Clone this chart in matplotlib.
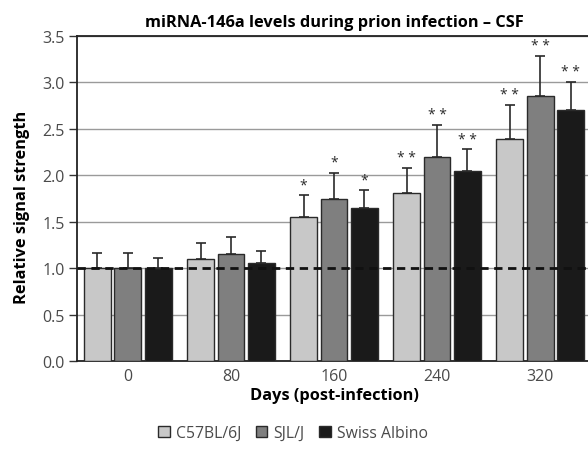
import numpy as np
import matplotlib
matplotlib.use('Agg')
import matplotlib.pyplot as plt

plt.rcParams['font.family'] = ['Open Sans', 'DejaVu Sans']

# data
days = ['0', '80', '160', '240', '320']
strains = ['C57BL/6J', 'SJL/J', 'Swiss Albino']
c57 = [1.00, 1.10, 1.55, 1.81, 2.39]
sjl = [1.00, 1.15, 1.75, 2.20, 2.85]
swiss = [1.00, 1.055, 1.65, 2.05, 2.70]
c57_err = [0.16, 0.17, 0.24, 0.27, 0.37]
sjl_err = [0.16, 0.19, 0.28, 0.34, 0.44]
swiss_err = [0.11, 0.125, 0.19, 0.23, 0.31]
c57_sig = ['', '', '*', '**', '**']
sjl_sig = ['', '', '*', '**', '**']
swiss_sig = ['', '', '*', '**', '**']

colors = ['#c8c8c8', '#7f7f7f', '#1a1a1a']

fig = plt.figure(figsize=(5.88, 4.64), dpi=100)
ax = fig.add_axes([77/588, 1 - 362/464, 514/588, 325/464])

x = np.arange(len(days))
slot = 0.296
width = 0.262
series = [(c57, c57_err, c57_sig), (sjl, sjl_err, sjl_sig), (swiss, swiss_err, swiss_sig)]

for i, (vals, errs, sigs) in enumerate(series):
    pos = x + (i - 1) * slot
    ax.bar(pos, vals, width, color=colors[i], edgecolor='#2a2a2a', linewidth=1.0,
           label=strains[i], zorder=3)
    ax.errorbar(pos, vals, yerr=[np.zeros(len(vals)), errs], fmt='none',
                ecolor='#2a2a2a', elinewidth=1.2, capsize=3.5, capthick=1.2, zorder=4)
    for p, v, e, s in zip(pos, vals, errs, sigs):
        if s:
            ax.text(p, v + e + 0.03, ' '.join(s), ha='center', va='bottom', fontsize=10,
                    color='#2a2a2a', zorder=5)

ax.axhline(1.0, color='#111111', linestyle=(0, (3, 2)), linewidth=2, zorder=6)

ax.set_xlim(-0.495, 4.495)
ax.set_ylim(0, 3.5)
ax.set_yticks(np.arange(0, 3.51, 0.5))
ax.set_yticklabels(['%.1f' % v for v in np.arange(0, 3.51, 0.5)])
ax.set_xticks(x)
ax.set_xticklabels(days)
ax.yaxis.grid(True, color='#9a9a9a', linewidth=1.0, zorder=0)
ax.set_axisbelow(True)

ax.tick_params(axis='y', length=6, width=1, color='#333333', labelsize=11.5,
               labelcolor='#4a4a4a', pad=3)
ax.tick_params(axis='x', length=0, labelsize=11.5, labelcolor='#4a4a4a', pad=5)
for side in ['left', 'bottom', 'top']:
    ax.spines[side].set_color('#222222')
    ax.spines[side].set_linewidth(1.3)
ax.spines['right'].set_visible(False)

ax.set_title('miRNA-146a levels during prion infection – CSF', fontsize=11.8,
             fontweight='bold', pad=7)
ax.set_xlabel('Days (post-infection)', fontsize=11.8, fontweight='bold', labelpad=2)
ax.set_ylabel('Relative signal strength', fontsize=11.8, fontweight='bold')
ax.yaxis.set_label_coords((30 - 77) / 514, (362 - 207) / 325)

leg = fig.legend(loc='center', bbox_to_anchor=(293/588, 1 - 434/464), ncol=3,
                 frameon=False, fontsize=11.3, handlelength=0.75, handleheight=0.75,
                 handletextpad=0.4, columnspacing=0.9)
for lbl in leg.get_texts():
    lbl.set_color('#4a4a4a')

fig.savefig('out.png', dpi=100)
